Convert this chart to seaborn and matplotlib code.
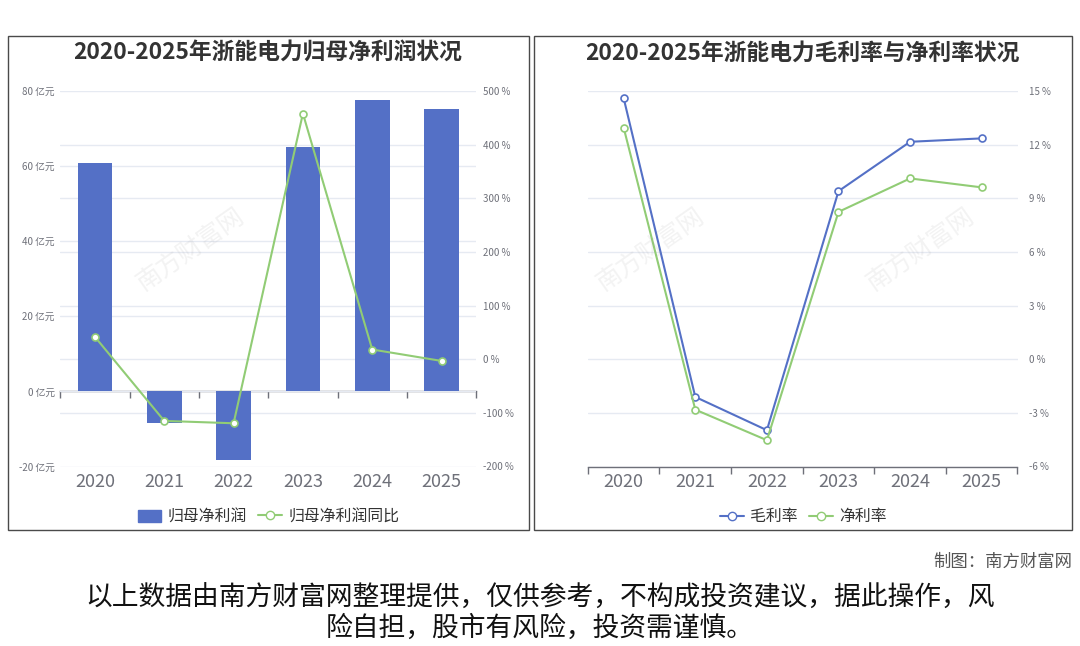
import numpy as np
import pandas as pd
import matplotlib
matplotlib.use("Agg")
import matplotlib.pyplot as plt
import seaborn as sns
from matplotlib.patches import Rectangle, Patch
from matplotlib.lines import Line2D

# ---------------- data ----------------
years = ["2020", "2021", "2022", "2023", "2024", "2025"]
net_profit = [60.8, -8.3, -18.2, 65.2, 77.5, 75.3]          # 归母净利润 (亿元)
net_profit_yoy = [41.6, -115.0, -119.4, 458.0, 18.1, -3.2]   # 归母净利润同比 (%)
gross_margin = [14.59, -2.11, -3.97, 9.40, 12.16, 12.35]     # 毛利率 (%)
net_margin = [12.94, -2.82, -4.53, 8.24, 10.11, 9.61]        # 净利率 (%)

profit_ticks = [-20, 0, 20, 40, 60, 80]
yoy_ticks = [-200, -100, 0, 100, 200, 300, 400, 500]
margin_ticks = [-6, -3, 0, 3, 6, 9, 12, 15]

title_left = "2020-2025年浙能电力归母净利润状况"
title_right = "2020-2025年浙能电力毛利率与净利率状况"
legend_left = ["归母净利润", "归母净利润同比"]
legend_right = ["毛利率", "净利率"]
credit = "制图：南方财富网"
disclaimer = "以上数据由南方财富网整理提供，仅供参考，不构成投资建议，据此操作，风\n险自担，股市有风险，投资需谨慎。"

# ---------------- style ----------------
BLUE = "#5470c6"
GREEN = "#91cc75"
GREY = "#6e7079"
GRID = "#e6eaf2"
TXT = "#333333"

sns.set_theme(style="white")
plt.rcParams["font.family"] = ["Noto Sans CJK SC", "DejaVu Sans"]
plt.rcParams["axes.unicode_minus"] = False

W, H = 1080, 646
fig = plt.figure(figsize=(W / 100, H / 100), dpi=100)
fig.patch.set_facecolor("white")


def fx(px):
    return px / W


def fy(py):
    return 1 - py / H


# panel frames
for x0, x1 in [(8, 528.5), (533.5, 1072)]:
    fig.patches.append(Rectangle((fx(x0), fy(530)), fx(x1 - x0), (530 - 36) / H,
                                 transform=fig.transFigure, fill=False,
                                 edgecolor="#4a4a4a", linewidth=1.0, zorder=0))

pos = np.arange(len(years))

# ---------------- left panel ----------------
ax1 = fig.add_axes([fx(60.3), fy(466.5), fx(476.2 - 60.3), (466.5 - 91) / H])
ax1.set_facecolor("none")
df1 = pd.DataFrame({"year": years, "profit": net_profit})
sns.barplot(data=df1, x="year", y="profit", color=BLUE, saturation=1, width=0.5,
            linewidth=0, ax=ax1, zorder=2)
ax1.set_ylim(profit_ticks[0], profit_ticks[-1])
ax1.set_yticks(profit_ticks, labels=[f"{v} 亿元" for v in profit_ticks])
# gridlines of the secondary (%) axis, mapped onto the primary scale
lo1, hi1 = profit_ticks[0], profit_ticks[-1]
lo2, hi2 = yoy_ticks[0], yoy_ticks[-1]
mapped = [lo1 + (v - lo2) * (hi1 - lo1) / (hi2 - lo2) for v in yoy_ticks]
ax1.set_yticks(mapped, minor=True)
ax1.grid(axis="y", which="both", color=GRID, linewidth=1)
ax1.set_axisbelow(True)
ax1.tick_params(axis="y", which="both", length=0, pad=4, labelsize=7, labelcolor=GREY)
ax1.tick_params(axis="x", length=0, pad=5, labelsize=13, labelcolor=GREY)
for s in ax1.spines.values():
    s.set_visible(False)
ax1.set_xlabel("")
ax1.set_ylabel("")

zero_ax = ax1.secondary_xaxis(0, transform=ax1.transData)
zero_ax.set_xticks(np.arange(-0.5, len(years), 1.0))
zero_ax.tick_params(axis="x", bottom=True, length=5, width=1, color=GREY,
                    direction="out", labelbottom=False)
for name, s in zero_ax.spines.items():
    s.set_color(GREY)
    s.set_linewidth(1)

ax2 = ax1.twinx()
sns.lineplot(x=pos, y=net_profit_yoy, ax=ax2, color=GREEN, linewidth=1.5,
             marker="o", markersize=5, markerfacecolor="white",
             markeredgecolor=GREEN, markeredgewidth=1.2, zorder=3)
ax2.set_ylim(yoy_ticks[0], yoy_ticks[-1])
ax2.set_yticks(yoy_ticks, labels=[f"{v} %" for v in yoy_ticks])
ax2.tick_params(axis="y", length=0, pad=5, labelsize=7, labelcolor=GREY,
                right=False, labelright=True)
ax2.grid(False)
for s in ax2.spines.values():
    s.set_visible(False)
ax2.set_ylabel("")
ax1.set_xlim(-0.5, len(years) - 0.5)

fig.text(fx(268), fy(53), title_left, ha="center", va="center",
         fontsize=16.4, fontweight="bold", color=TXT)

h_left = [Patch(facecolor=BLUE, edgecolor=BLUE),
          Line2D([], [], color=GREEN, lw=1.5, marker="o", markersize=6,
                 markerfacecolor="white", markeredgecolor=GREEN)]
leg1 = fig.legend(h_left, legend_left, loc="center",
                  bbox_to_anchor=(fx(268.6), fy(516.7)), ncol=2, frameon=False,
                  fontsize=11.4, handlelength=1.5, handleheight=0.8,
                  columnspacing=0.7, handletextpad=0.4)
for t in leg1.get_texts():
    t.set_color(TXT)

# ---------------- right panel ----------------
ax3 = fig.add_axes([fx(587.9), fy(466.5), fx(1017.5 - 587.9), (466.5 - 91) / H])
ax3.set_facecolor("none")
sns.lineplot(x=pos, y=gross_margin, ax=ax3, color=BLUE, linewidth=1.5,
             marker="o", markersize=5, markerfacecolor="white",
             markeredgecolor=BLUE, markeredgewidth=1.2, zorder=3)
sns.lineplot(x=pos, y=net_margin, ax=ax3, color=GREEN, linewidth=1.5,
             marker="o", markersize=5, markerfacecolor="white",
             markeredgecolor=GREEN, markeredgewidth=1.2, zorder=3)
ax3.set_xlim(-0.5, len(years) - 0.5)
ax3.set_ylim(margin_ticks[0], margin_ticks[-1])
ax3.set_xticks(pos, labels=years)
ax3.set_xticks(np.arange(-0.5, len(years), 1.0), minor=True)
ax3.set_yticks(margin_ticks, labels=[f"{v} %" for v in margin_ticks])
ax3.yaxis.tick_right()
ax3.tick_params(axis="y", length=0, pad=8, labelsize=7, labelcolor=GREY,
                labelright=True, labelleft=False)
ax3.tick_params(axis="x", which="major", length=0, pad=5, labelsize=13, labelcolor=GREY)
ax3.tick_params(axis="x", which="minor", bottom=True, length=5, width=1,
                color=GREY, direction="out")
ax3.grid(axis="y", color=GRID, linewidth=1)
ax3.set_axisbelow(True)
for name, s in ax3.spines.items():
    s.set_visible(name == "bottom")
ax3.spines["bottom"].set_color(GREY)
ax3.spines["bottom"].set_linewidth(1)
ax3.set_xlabel("")
ax3.set_ylabel("")

fig.text(fx(802.7), fy(53), title_right, ha="center", va="center",
         fontsize=16.4, fontweight="bold", color=TXT)

h_right = [Line2D([], [], color=BLUE, lw=1.5, marker="o", markersize=6,
                  markerfacecolor="white", markeredgecolor=BLUE),
           Line2D([], [], color=GREEN, lw=1.5, marker="o", markersize=6,
                  markerfacecolor="white", markeredgecolor=GREEN)]
leg2 = fig.legend(h_right, legend_right, loc="center",
                  bbox_to_anchor=(fx(803.5), fy(516.7)), ncol=2, frameon=False,
                  fontsize=11.4, handlelength=1.5, columnspacing=0.7,
                  handletextpad=0.4)
for t in leg2.get_texts():
    t.set_color(TXT)

# ---------------- watermarks (faint, away from other texts) ----------------
for (x, y) in [(190, 250), (650, 250), (920, 250)]:
    fig.text(fx(x), fy(y), "南方财富网", ha="center", va="center", fontsize=18,
             color="#9a9a9a", alpha=0.12, rotation=35, zorder=10)

# ---------------- footer ----------------
fig.text(fx(1072), fy(562), credit, ha="right", va="center", fontsize=12.5, color="#555555")
fig.text(fx(540), fy(613), disclaimer, ha="center", va="center", fontsize=19.3,
         color="#111111", linespacing=1.15)

fig.savefig("out.png", dpi=100, facecolor="white")
